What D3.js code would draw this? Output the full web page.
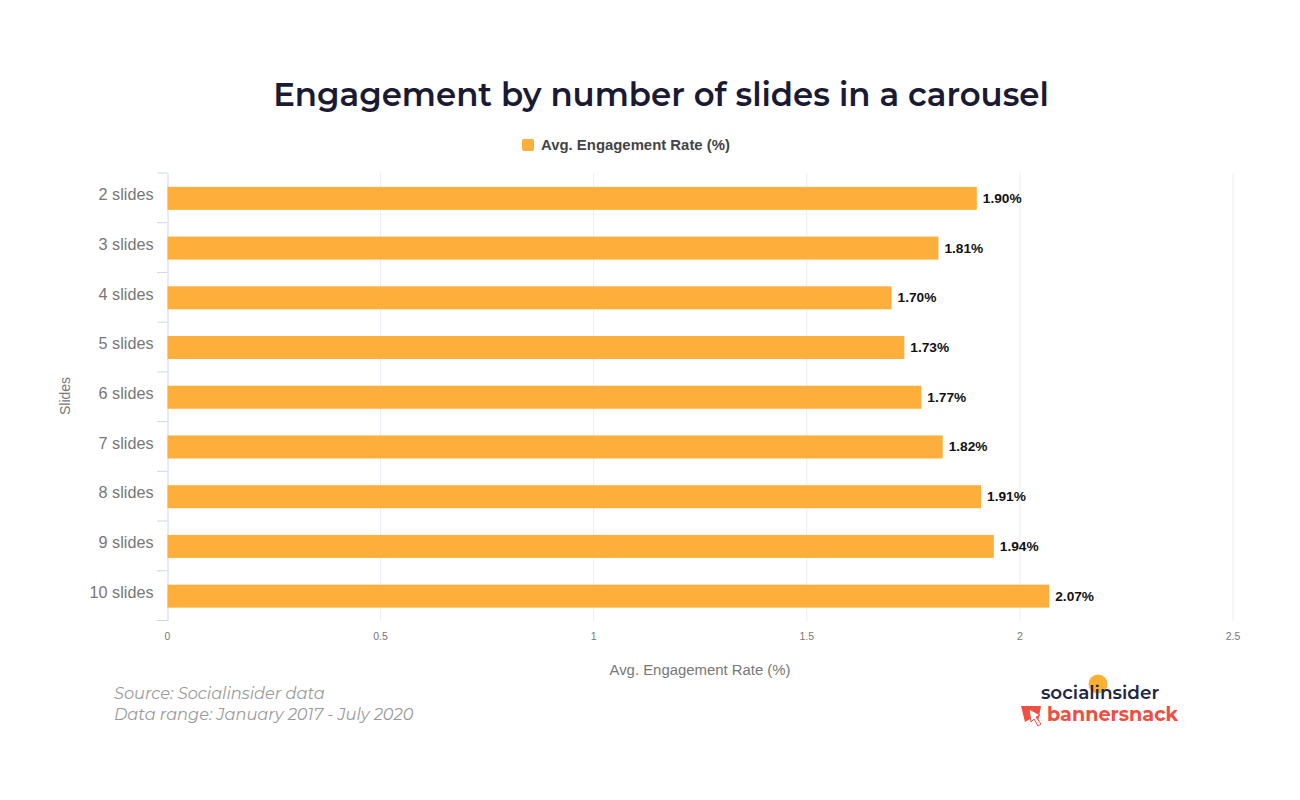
<!DOCTYPE html>
<html><head><meta charset="utf-8">
<script src="https://cdn.jsdelivr.net/npm/d3@7/dist/d3.min.js"></script>
<style>html,body{margin:0;background:#fff}svg{display:block}text{font-family:"Liberation Sans",Arial,sans-serif}</style>
</head><body><svg id="c" width="1300" height="800"></svg>
<script>
const categories=["2 slides","3 slides","4 slides","5 slides","6 slides","7 slides","8 slides","9 slides","10 slides"];
const values=[1.90,1.81,1.70,1.73,1.77,1.82,1.91,1.94,2.07];
const labels=["1.90%","1.81%","1.70%","1.73%","1.77%","1.82%","1.91%","1.94%","2.07%"];
const xTicks=[0,0.5,1,1.5,2,2.5];
const svg=d3.select("#c");
const x=d3.scaleLinear().domain([0,2.5]).range([167.5,1233]);
const y=d3.scaleBand().domain(categories).range([173,620.5]).paddingInner(0);
const barH=23;
const gridColor="#e9edf5",axisColor="#ccd6eb",orange="#fdae3b";
svg.append("text").attr("x",661).attr("y",106).attr("text-anchor","middle")
 .style("font-family","Montserrat,Inter,'Noto Sans',sans-serif").style("font-size","32.4px").style("font-weight",600).attr("fill","#1a1a33").text("Engagement by number of slides in a carousel");
svg.append("rect").attr("x",522).attr("y",139).attr("width",12).attr("height",12).attr("rx",2).attr("fill",orange);
svg.append("text").attr("x",541).attr("y",149.5).style("font-size","14.9px").style("font-weight",700).attr("fill","#444").text("Avg. Engagement Rate (%)");
svg.append("g").selectAll("line").data(xTicks.slice(1)).join("line")
 .attr("x1",d=>x(d)).attr("x2",d=>x(d)).attr("y1",173).attr("y2",621).attr("stroke",gridColor);
const yAxis=svg.append("g").attr("transform","translate(167.5,0)").call(d3.axisLeft(y).tickSize(0).tickPadding(14));
yAxis.select(".domain").attr("stroke",axisColor);
yAxis.selectAll("text").style("font-size","16.2px").attr("fill","#777").attr("dy","0.14em");
svg.append("g").selectAll("line").data(d3.range(categories.length+1)).join("line")
 .attr("x1",157).attr("x2",167.5).attr("y1",i=>173+i*y.step()).attr("y2",i=>173+i*y.step()).attr("stroke",axisColor);
svg.append("g").selectAll("rect").data(values).join("rect")
 .attr("x",x(0)).attr("y",(d,i)=>y(categories[i])+y.step()/2-barH/2+0.5).attr("width",d=>x(d)-x(0)-0.5).attr("height",barH).attr("fill",orange);
svg.append("g").selectAll("text").data(values).join("text")
 .attr("x",d=>x(d)+5.5).attr("y",(d,i)=>y(categories[i])+y.step()/2+5).style("font-size","13.7px").style("font-weight",700).attr("fill","#111").text((d,i)=>labels[i]);
svg.append("g").selectAll("text").data(xTicks).join("text")
 .attr("x",d=>x(d)).attr("y",640).attr("text-anchor","middle").style("font-size","10.5px").attr("fill","#777").text(d=>d);
svg.append("text").attr("x",700).attr("y",675).attr("text-anchor","middle").style("font-size","14.9px").attr("fill","#777").text("Avg. Engagement Rate (%)");
svg.append("text").attr("transform","translate(70,396) rotate(-90)").attr("text-anchor","middle").style("font-size","14px").attr("fill","#777").text("Slides");
svg.append("text").attr("x",114).attr("y",699).style("font-family","Montserrat,Inter,sans-serif").style("font-style","italic").style("font-size","16.2px").attr("fill","#999").text("Source: Socialinsider data");
svg.append("text").attr("x",114).attr("y",720).style("font-family","Montserrat,Inter,sans-serif").style("font-style","italic").style("font-size","16.2px").attr("fill","#999").text("Data range: January 2017 - July 2020");
svg.append("circle").attr("cx",1098).attr("cy",684).attr("r",9.5).attr("fill","#fbb034");
svg.append("text").attr("x",1100).attr("y",698.5).attr("text-anchor","middle").style("font-family","Montserrat,Inter,sans-serif").style("font-size","18.4px").style("font-weight",600).attr("fill","#23263f").text("socialinsider");
svg.append("path").attr("d",d3.line()([[1021,706],[1041,706],[1038,722],[1032,718],[1025,722]])+"Z").attr("fill","#ee4f42");
svg.append("path").attr("d",d3.line()([[1029,709],[1040,715],[1036,717],[1041,724],[1038,726],[1034,719],[1031,722]])+"Z").attr("fill","#fff").attr("stroke","#ee4f42");
svg.append("text").attr("x",1047).attr("y",721).style("font-family","Montserrat,Inter,sans-serif").style("font-size","19.2px").style("font-weight",700).attr("fill","#ee4f42").text("bannersnack");
</script></body></html>
